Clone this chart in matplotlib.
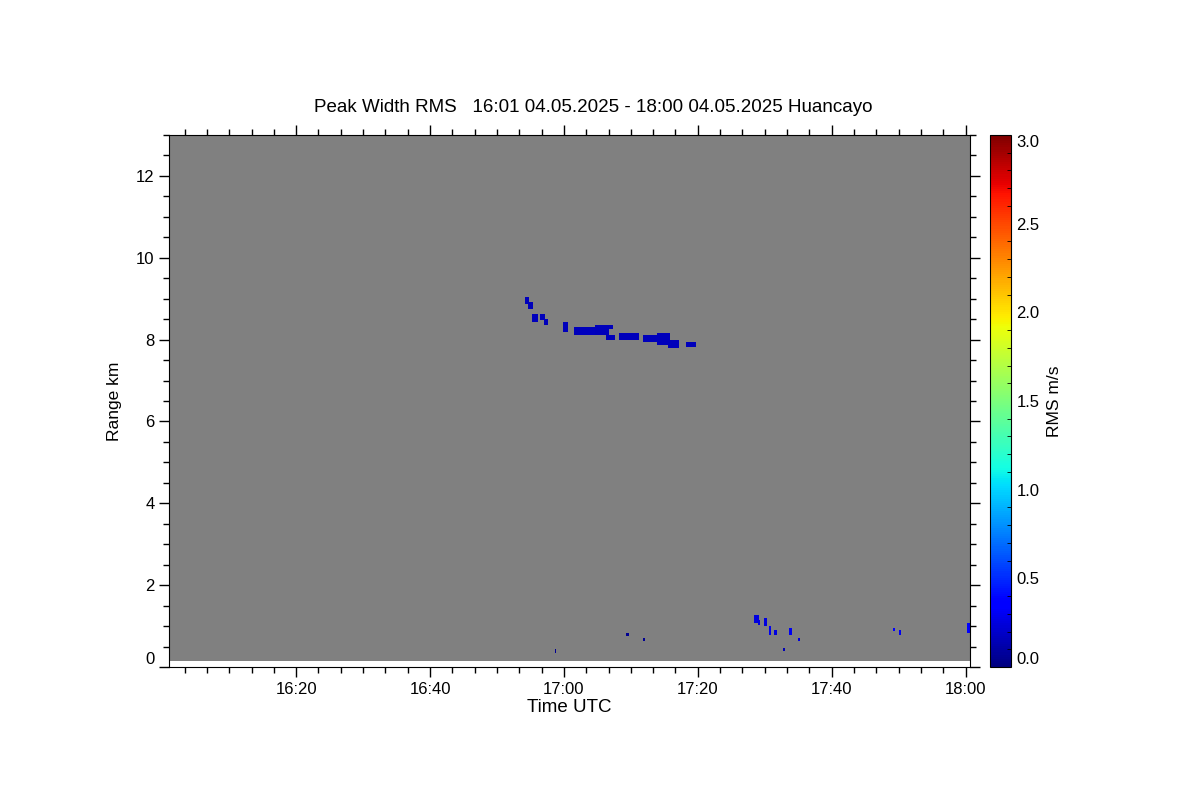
import numpy as np
import matplotlib
matplotlib.use("Agg")
import matplotlib.pyplot as plt
from matplotlib.ticker import MultipleLocator, FuncFormatter

plt.rcParams['font.family'] = ['Liberation Sans', 'DejaVu Sans']

# echo patches: start/end time (minutes after 16:00), range bottom/top (km), RMS (m/s)
echo_t0 = [54.3, 54.8, 55.2, 56.6, 57.1, 60.0, 61.6, 62.5, 64.8, 66.5, 68.2, 71.9, 73.9,
           75.6, 78.2, 58.7, 69.4, 71.9, 88.5, 89.1, 89.9, 90.7, 91.5, 93.7, 92.8,
           95.1, 109.3, 110.1, 120.2]
echo_t1 = [54.8, 55.3, 56.0, 57.1, 57.6, 60.5, 66.5, 64.5, 67.2, 67.5, 71.0, 74.3, 75.8,
           77.0, 79.5, 58.8, 69.5, 72.0, 89.0, 89.3, 90.3, 90.9, 91.8, 93.9, 92.9,
           95.2, 109.4, 110.2, 120.6]
echo_r0 = [8.88, 8.78, 8.44, 8.50, 8.37, 8.20, 8.14, 8.12, 8.28, 8.02, 8.02, 7.97, 7.90,
           7.82, 7.85, 0.37, 0.76, 0.66, 1.10, 1.05, 1.00, 0.83, 0.83, 0.83, 0.40,
           0.64, 0.90, 0.80, 0.85]
echo_r1 = [9.00, 8.90, 8.60, 8.62, 8.50, 8.40, 8.28, 8.22, 8.32, 8.10, 8.12, 8.08, 8.12,
           7.98, 7.93, 0.42, 0.80, 0.70, 1.25, 1.15, 1.17, 0.98, 0.90, 0.95, 0.45,
           0.68, 0.95, 0.90, 1.05]
echo_rms = [0.16, 0.16, 0.16, 0.16, 0.16, 0.16, 0.16, 0.17, 0.16, 0.16, 0.16, 0.16, 0.16,
            0.16, 0.16, 0.05, 0.05, 0.05, 0.25, 0.25, 0.25, 0.30, 0.25, 0.30, 0.15,
            0.25, 0.35, 0.30, 0.35]

# measurement grid
t_edges = np.arange(1.0, 120.7, 1.0 / 6.0)
r_edges = np.arange(0.15, 13.001, 0.04)
t_mid = 0.5 * (t_edges[1:] + t_edges[:-1])
r_mid = 0.5 * (r_edges[1:] + r_edges[:-1])

rms = np.full((len(r_mid), len(t_mid)), np.nan)
for t0, t1, r0, r1, v in zip(echo_t0, echo_t1, echo_r0, echo_r1, echo_rms):
    ti = (t_mid >= t0 - 0.09) & (t_mid <= t1 + 0.09)
    ri = (r_mid >= r0 - 0.02) & (r_mid <= r1 + 0.02)
    rms[np.ix_(ri, ti)] = v
rms = np.ma.masked_invalid(rms)

cmap = plt.get_cmap('jet').copy()
cmap.set_bad('#808080')

fig = plt.figure(figsize=(12, 8), dpi=100)
ax = fig.add_axes([169 / 1200, 133 / 800, 801 / 1200, 532 / 800])
mesh = ax.pcolormesh(t_edges, r_edges, rms, cmap=cmap, vmin=0, vmax=3, shading='flat')

ax.set_xlim(t_edges[0], t_edges[-1])
ax.set_ylim(0, 13)


def hhmm(x, pos):
    m = int(round(x))
    return f"{16 + m // 60:02d}:{m % 60:02d}"


ax.xaxis.set_major_locator(MultipleLocator(20))
ax.xaxis.set_minor_locator(MultipleLocator(20 / 6))
ax.xaxis.set_major_formatter(FuncFormatter(hhmm))
ax.yaxis.set_major_locator(MultipleLocator(2))
ax.yaxis.set_minor_locator(MultipleLocator(0.5))
ax.tick_params(which='both', direction='out', top=True, right=True, labelsize=12, width=1)
ax.tick_params(which='major', length=7)
ax.tick_params(which='minor', length=4)
ax.set_xlabel('Time UTC', fontsize=13.5, labelpad=2)
ax.set_ylabel('Range km', fontsize=12.5, labelpad=10)
fig.canvas.draw()
for lab in ax.get_yticklabels():
    if lab.get_text() == '0':
        lab.set_va('bottom')

fig.text(593 / 1200, 1 - 108 / 800,
         'Peak Width RMS   16:01 04.05.2025 - 18:00 04.05.2025 Huancayo',
         ha='center', va='center', fontsize=13.5)

cax = fig.add_axes([990 / 1200, 133 / 800, 21 / 1200, 532 / 800])
cb = fig.colorbar(mesh, cax=cax)
cb.set_ticks(np.arange(0, 3.01, 0.5))
cb.ax.yaxis.set_major_formatter(FuncFormatter(lambda v, p: f"{v:.1f}"))
cb.ax.yaxis.set_minor_locator(MultipleLocator(0.1))
cb.ax.tick_params(which='major', length=0, labelsize=12, pad=4)
cb.ax.tick_params(which='minor', length=3, direction='in')
cb.set_label('RMS m/s', fontsize=12.5, labelpad=5)
fig.canvas.draw()
cb_labels = cb.ax.get_yticklabels()
cb_labels[0].set_va('bottom')
cb_labels[-1].set_va('top')

fig.savefig('out.png', dpi=100)
